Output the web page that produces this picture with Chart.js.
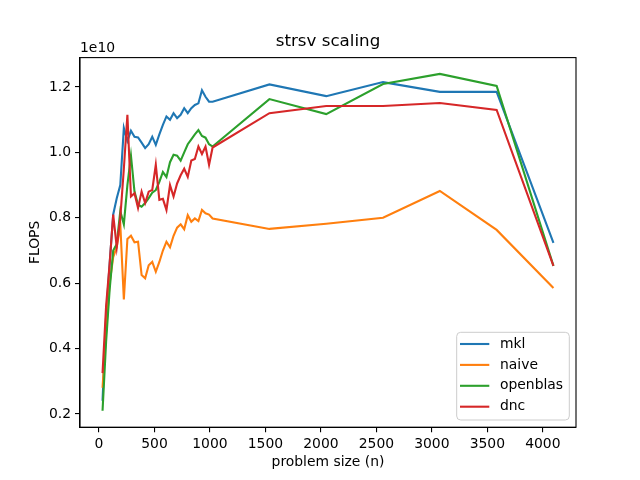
<!DOCTYPE html>
<html><head><meta charset="utf-8">
<script src="https://cdn.jsdelivr.net/npm/chart.js@4.4.1/dist/chart.umd.min.js"></script>
<style>html,body{margin:0;padding:0;background:#fff}</style>
</head><body>
<canvas id="c" width="640" height="480"></canvas>
<script>
// problem sizes (n)
const sizes = [32,64,96,128,160,192,224,256,288,320,352,384,416,448,480,512,
  544,576,608,640,672,704,736,768,800,832,864,896,928,960,992,1024,
  1536,2048,2560,3072,3584,4096];
// FLOPS values in units of 1e10
const mkl = [0.24,0.50,0.66,0.81,0.86,0.90,1.075,1.035,1.066,1.048,1.046,1.03,1.013,1.025,1.048,1.023,
  1.055,1.084,1.11,1.10,1.12,1.105,1.115,1.135,1.12,1.135,1.145,1.15,1.19,1.17,1.155,1.155,
  1.208,1.172,1.215,1.185,1.185,0.723];
const naive = [0.28,0.45,0.60,0.68,0.71,0.78,0.55,0.735,0.745,0.725,0.727,0.625,0.615,0.655,0.665,0.635,
  0.665,0.70,0.727,0.71,0.745,0.77,0.78,0.765,0.808,0.788,0.798,0.79,0.824,0.814,0.81,0.798,
  0.766,0.782,0.80,0.882,0.763,0.585];
const openblas = [0.21,0.42,0.58,0.70,0.72,0.82,0.78,0.90,0.99,0.88,0.84,0.834,0.845,0.86,0.877,0.885,
  0.91,0.94,0.925,0.97,0.993,0.99,0.975,1.00,1.025,1.04,1.055,1.068,1.05,1.045,1.025,1.018,
  1.163,1.117,1.209,1.24,1.203,0.653];
const dnc = [0.325,0.53,0.66,0.81,0.71,0.80,0.95,1.115,0.865,0.875,0.83,0.88,0.845,0.88,0.885,0.962,
  0.855,0.858,0.824,0.90,0.865,0.905,0.93,0.95,0.925,0.975,0.98,1.018,0.995,1.018,0.962,1.015,
  1.12,1.142,1.142,1.151,1.13,0.653];
const seriesNames = ['mkl','naive','openblas','dnc'];
const seriesColors = ['#1f77b4','#ff7f0e','#2ca02c','#d62728'];
const xTicks = [0,500,1000,1500,2000,2500,3000,3500,4000];
const yTicks = [0.2,0.4,0.6,0.8,1.0,1.2];
const chartTitle = 'strsv scaling';
const xLabel = 'problem size (n)';
const yLabel = 'FLOPS';
const yOffsetLabel = '1e10';

const FONT = "'DejaVu Sans', sans-serif";
const allSeries = [mkl, naive, openblas, dnc];
const datasets = allSeries.map((vals, i) => ({
  label: seriesNames[i],
  data: sizes.map((s, j) => ({x: s, y: vals[j]})),
  borderColor: seriesColors[i],
  backgroundColor: seriesColors[i],
  borderWidth: 2.1,
  pointRadius: 0,
  tension: 0,
  fill: false,
  order: allSeries.length - 1 - i
}));

const decor = {
  id: 'decor',
  afterDraw(chart) {
    const ctx = chart.ctx, a = chart.chartArea;
    ctx.save();
    // spines
    ctx.strokeStyle = '#000'; ctx.lineWidth = 1.1;
    ctx.strokeRect(a.left, a.top, a.right - a.left, a.bottom - a.top);
    // title
    ctx.fillStyle = '#000';
    ctx.font = '16.7px ' + FONT;
    ctx.textAlign = 'center'; ctx.textBaseline = 'alphabetic';
    ctx.fillText(chartTitle, (a.left + a.right) / 2, 45.5);
    // offset label
    ctx.font = '13.9px ' + FONT;
    ctx.textAlign = 'left';
    ctx.fillText(yOffsetLabel, a.left, 52);
    // legend
    const bx = 456.7, by = 332.3, bw = 112.6, bh = 87.7, r = 4;
    ctx.beginPath();
    ctx.moveTo(bx + r, by); ctx.lineTo(bx + bw - r, by);
    ctx.quadraticCurveTo(bx + bw, by, bx + bw, by + r);
    ctx.lineTo(bx + bw, by + bh - r);
    ctx.quadraticCurveTo(bx + bw, by + bh, bx + bw - r, by + bh);
    ctx.lineTo(bx + r, by + bh);
    ctx.quadraticCurveTo(bx, by + bh, bx, by + bh - r);
    ctx.lineTo(bx, by + r);
    ctx.quadraticCurveTo(bx, by, bx + r, by);
    ctx.closePath();
    ctx.fillStyle = 'rgba(255,255,255,0.8)'; ctx.fill();
    ctx.strokeStyle = '#cccccc'; ctx.lineWidth = 1; ctx.stroke();
    chart.data.datasets.forEach((ds, i) => {
      const y = 344 + i * 20.9;
      ctx.strokeStyle = ds.borderColor; ctx.lineWidth = 2.1;
      ctx.beginPath(); ctx.moveTo(460, y); ctx.lineTo(489.3, y); ctx.stroke();
      ctx.fillStyle = '#000'; ctx.font = '13.9px ' + FONT;
      ctx.textAlign = 'left'; ctx.textBaseline = 'middle';
      ctx.fillText(ds.label, 500, y);
    });
    ctx.restore();
  }
};

new Chart(document.getElementById('c'), {
  type: 'line',
  data: { datasets },
  options: {
    responsive: false, animation: false, devicePixelRatio: 1,
    layout: { padding: { top: 57.6, right: 64, left: 0, bottom: 0 } },
    plugins: { legend: { display: false }, title: { display: false }, tooltip: { enabled: false } },
    scales: {
      x: {
        type: 'linear', min: -171.2, max: 4299.2,
        afterFit(s) { s.height = 52.8; },
        afterBuildTicks(s) { s.ticks = xTicks.map(v => ({value: v})); },
        ticks: { color: '#000', font: { family: FONT, size: 13.9 }, padding: 4, maxRotation: 0,
                 callback: v => String(v) },
        grid: { display: true, drawOnChartArea: false, drawTicks: true, tickLength: 5, color: '#000', lineWidth: 1.1 },
        border: { display: true, color: '#000', width: 1.1 },
        title: { display: true, text: xLabel, color: '#000', font: { family: FONT, size: 13.9 },
                 padding: { top: 0, bottom: 9.5 } }
      },
      y: {
        type: 'linear', min: 0.1596, max: 1.2899,
        afterFit(s) { s.width = 80; },
        afterBuildTicks(s) { s.ticks = yTicks.map(v => ({value: v})); },
        ticks: { color: '#000', font: { family: FONT, size: 13.9 }, padding: 4,
                 callback: v => Number(v).toFixed(1) },
        grid: { display: true, drawOnChartArea: false, drawTicks: true, tickLength: 5, color: '#000', lineWidth: 1.1 },
        border: { display: true, color: '#000', width: 1.1 },
        title: { display: true, text: yLabel, color: '#000', font: { family: FONT, size: 13.9 },
                 padding: { top: 27.5, bottom: 0 } }
      }
    }
  },
  plugins: [decor]
});
</script>
</body></html>
